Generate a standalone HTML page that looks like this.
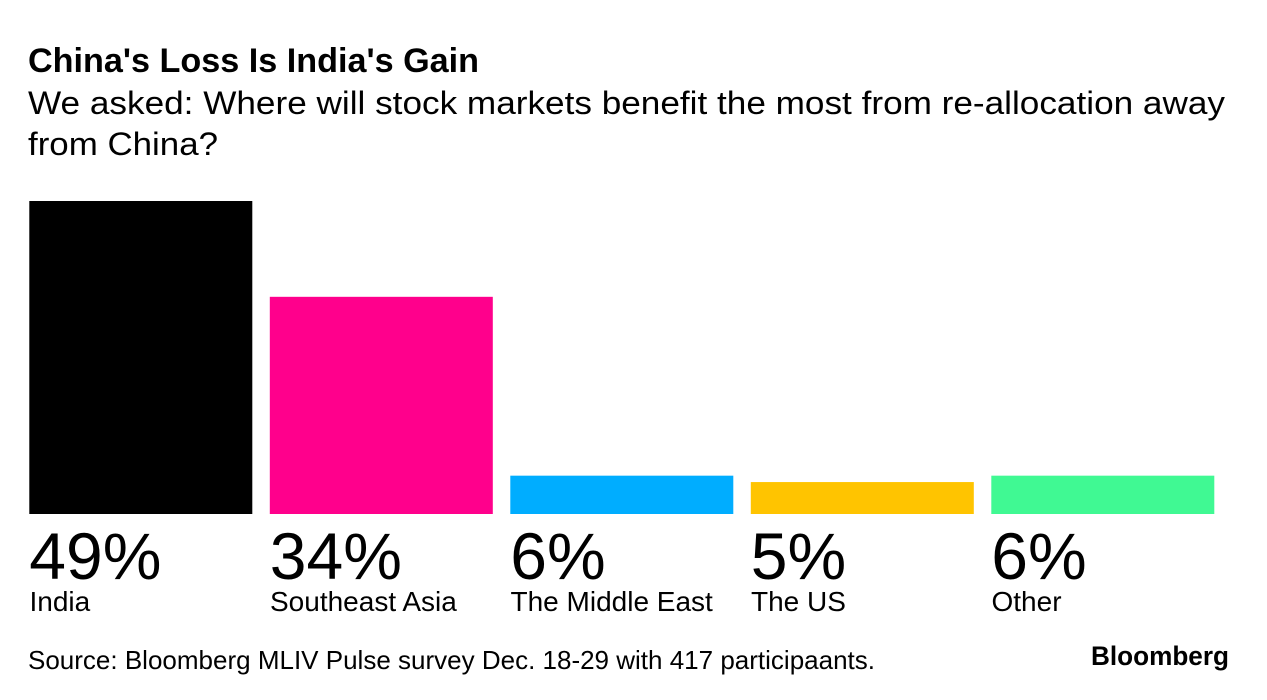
<!DOCTYPE html>
<html lang="en">
<head>
<meta charset="utf-8">
<title>China's Loss Is India's Gain</title>
<style>
  html, body { margin: 0; padding: 0; background: #fff; }
  body { width: 1267px; height: 700px; overflow: hidden; }
  svg { display: block; font-family: "Liberation Sans", sans-serif; fill: #000; }
</style>
</head>
<body>
<svg id="chart" width="1267" height="700" viewBox="0 0 1267 700" xmlns="http://www.w3.org/2000/svg">
  <rect x="0" y="0" width="1267" height="700" fill="#fff"/>
  <text x="28" y="72" font-size="34" font-weight="700" textLength="451" lengthAdjust="spacingAndGlyphs">China's Loss Is India's Gain</text>
  <text x="28" y="114" font-size="32" textLength="1197" lengthAdjust="spacingAndGlyphs">We asked: Where will stock markets benefit the most from re-allocation away</text>
  <text x="28" y="155" font-size="32" textLength="190" lengthAdjust="spacingAndGlyphs">from China?</text>
  <g id="bars"></g>
  <g id="values"></g>
  <g id="cats"></g>
  <text x="28" y="669" font-size="26" textLength="847" lengthAdjust="spacingAndGlyphs">Source: Bloomberg MLIV Pulse survey Dec. 18-29 with 417 participaants.</text>
  <text x="1091" y="665" font-size="27" font-weight="700" textLength="138" lengthAdjust="spacingAndGlyphs">Bloomberg</text>
</svg>
<script>
const categories = ["India", "Southeast Asia", "The Middle East", "The US", "Other"];
const values = [49, 34, 6, 5, 6];
const valueLabels = ["49%", "34%", "6%", "5%", "6%"];
const colors = ["#000000", "#ff008c", "#00adff", "#ffc400", "#40f993"];

const NS = "http://www.w3.org/2000/svg";
const plotLeft = 29.3, bandStep = 240.5, bandWidth = 223;
const baseY = 514, pxPerUnit = 313 / 49;

function xScale(i) { return plotLeft + i * bandStep; }
function yScale(v) { return baseY - v * pxPerUnit; }

const barsG = document.getElementById("bars");
const valuesG = document.getElementById("values");
const catsG = document.getElementById("cats");

categories.forEach(function (cat, i) {
  const slug = cat.toLowerCase().replace(/\s+/g, "-");

  const r = document.createElementNS(NS, "rect");
  r.setAttribute("x", xScale(i));
  r.setAttribute("y", yScale(values[i]));
  r.setAttribute("width", bandWidth);
  r.setAttribute("height", baseY - yScale(values[i]));
  r.setAttribute("fill", colors[i]);
  
  
  barsG.appendChild(r);

  const v = document.createElementNS(NS, "text");
  v.setAttribute("x", xScale(i));
  v.setAttribute("y", 579);
  v.setAttribute("font-size", 66);
  v.textContent = valueLabels[i];
  
  
  valuesG.appendChild(v);

  const c = document.createElementNS(NS, "text");
  c.setAttribute("x", xScale(i) + 0.2);
  c.setAttribute("y", 611);
  c.setAttribute("font-size", 28);
  c.textContent = cat;
  
  
  catsG.appendChild(c);
});
</script>
</body>
</html>
